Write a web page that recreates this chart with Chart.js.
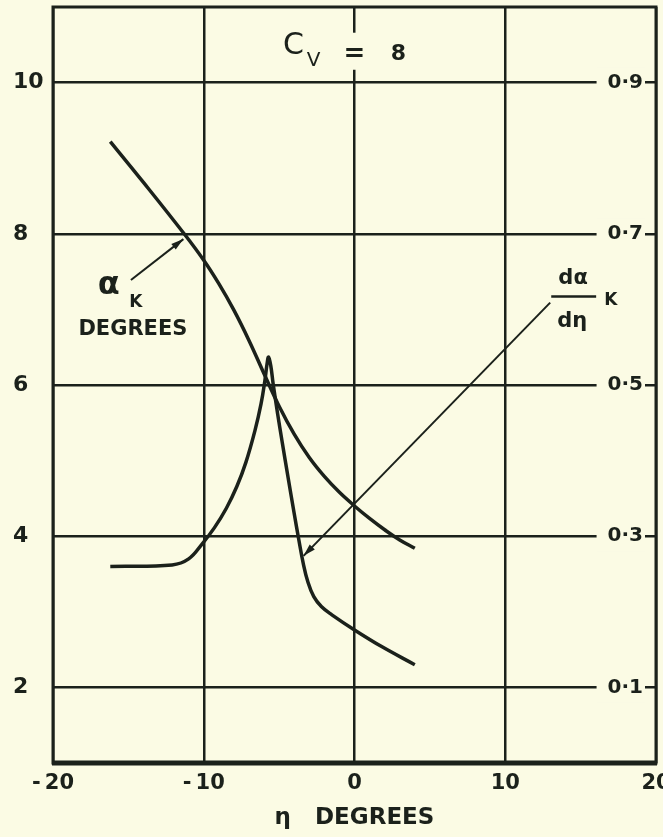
<!DOCTYPE html>
<html>
<head>
<meta charset="utf-8">
<title>Cv = 8</title>
<script src="https://cdn.jsdelivr.net/npm/chart.js@4.4.1/dist/chart.umd.min.js"></script>
<style>
  html, body { margin: 0; padding: 0; background: #fbfbe4; overflow: hidden; }
  #wrap { width: 690px; height: 837px; }
</style>
</head>
<body>
<div id="wrap"><canvas id="chart" width="690" height="837"></canvas></div>
<script>
// alpha_K (degrees) against eta (degrees) - left axis
const etaAlpha = [-16.2, -14, -11.3, -10, -9, -8, -7, -6, -5, -4, -3, -2, -1, 0, 1, 2, 3, 4];
const alphaK = [9.22, 8.68, 8.0, 7.65, 7.34, 6.99, 6.59, 6.15, 5.72, 5.35, 5.04, 4.79, 4.58, 4.40, 4.235, 4.085, 3.95, 3.84];

// d alpha_K / d eta against eta - right axis
const etaSlope = [-16.2, -12.1, -11, -10.1, -9.3, -8.5, -7.8, -7.2, -6.6, -6.2, -5.95, -5.8, -5.7, -5.55, -5.4, -5.1, -4.8, -4.4, -4.0, -3.7, -3.4, -3.1, -2.7, -2.2, -1.5, 0, 1.8, 4];
const dAlphaK = [0.260, 0.262, 0.270, 0.290, 0.311, 0.337, 0.366, 0.398, 0.440, 0.475, 0.505, 0.528, 0.537, 0.525, 0.502, 0.462, 0.425, 0.377, 0.330, 0.296, 0.264, 0.240, 0.220, 0.207, 0.196, 0.176, 0.154, 0.130];

const xTicks = [-20, -10, 0, 10, 20];
const leftTicks = [2, 4, 6, 8, 10];
const rightTicks = [0.1, 0.3, 0.5, 0.7, 0.9];

const INK = '#1b211b';
const PAPER = '#fbfbe4';
const FONT = "'DejaVu Sans', sans-serif";

function toPoints(xs, ys) {
    return xs.map((x, i) => ({ x: x, y: ys[i] }));
}

function arrow(ctx, x1, y1, x2, y2) {
    ctx.beginPath();
    ctx.moveTo(x1, y1);
    ctx.lineTo(x2, y2);
    ctx.stroke();
    const a = Math.atan2(y2 - y1, x2 - x1), L = 13, w = 0.28;
    ctx.beginPath();
    ctx.moveTo(x2, y2);
    ctx.lineTo(x2 - L * Math.cos(a - w), y2 - L * Math.sin(a - w));
    ctx.lineTo(x2 - L * Math.cos(a + w), y2 - L * Math.sin(a + w));
    ctx.closePath();
    ctx.fill();
}

// paper background + gap in the zero line behind the title
const paperPlugin = {
    id: 'paper',
    beforeDraw(chart) {
        const ctx = chart.ctx;
        ctx.save();
        ctx.fillStyle = PAPER;
        ctx.fillRect(0, 0, chart.width, chart.height);
        ctx.restore();
    },
    beforeDatasetsDraw(chart) {
        const { ctx, scales } = chart;
        const x0 = scales.x.getPixelForValue(0);
        const yA = scales.y.getPixelForValue(10.66);
        const yB = scales.y.getPixelForValue(10.17);
        ctx.save();
        ctx.fillStyle = PAPER;
        ctx.fillRect(x0 - 3, yA, 6, yB - yA);
        ctx.restore();
    }
};

// frame, title and curve labels
const notesPlugin = {
    id: 'notes',
    afterDraw(chart) {
        const { ctx, chartArea: a, scales } = chart;
        const px = v => scales.x.getPixelForValue(v);
        const py = v => scales.y.getPixelForValue(v);
        ctx.save();
        ctx.strokeStyle = INK;
        ctx.fillStyle = INK;

        // frame
        ctx.lineWidth = 3;
        ctx.strokeRect(a.left, a.top, a.right - a.left, a.bottom - a.top);
        ctx.lineWidth = 5;
        ctx.beginPath();
        ctx.moveTo(a.left - 1, a.bottom);
        ctx.lineTo(a.right + 1, a.bottom);
        ctx.stroke();

        ctx.textAlign = 'center';
        ctx.textBaseline = 'middle';

        // title  C_V = 8
        ctx.font = '30px ' + FONT;
        ctx.fillText('C', px(-4.04), py(10.48));
        ctx.font = '20px ' + FONT;
        ctx.fillText('V', px(-2.72), py(10.29));
        ctx.font = 'bold 26px ' + FONT;
        ctx.fillText('=', px(0), py(10.37));
        ctx.font = 'bold 22px ' + FONT;
        ctx.fillText('8', px(2.91), py(10.37));

        // alpha_K label
        ctx.lineWidth = 2;
        arrow(ctx, px(-14.83), py(7.39), px(-11.35), py(7.93));
        ctx.font = 'bold 32px ' + FONT;
        ctx.fillText('α', px(-16.3), py(7.31));
        ctx.font = 'bold 17px ' + FONT;
        ctx.fillText('K', px(-14.5), py(7.09));
        ctx.font = 'bold 21px ' + FONT;
        ctx.fillText('DEGREES', px(-14.7), py(6.73));

        // d alpha_K / d eta label
        arrow(ctx, px(12.98), py(7.09), px(-3.38), py(3.74));
        ctx.font = 'bold 21px ' + FONT;
        ctx.fillText('dα', px(14.5), py(7.41));
        ctx.fillText('dη', px(14.44), py(6.84));
        ctx.font = 'bold 17px ' + FONT;
        ctx.fillText('K', px(17.0), py(7.12));
        ctx.lineWidth = 2.5;
        ctx.beginPath();
        ctx.moveTo(px(13.05), py(7.17));
        ctx.lineTo(px(16.03), py(7.17));
        ctx.stroke();

        ctx.restore();
    }
};

new Chart(document.getElementById('chart'), {
    type: 'line',
    data: {
        datasets: [{
            label: 'αK degrees',
            data: toPoints(etaAlpha, alphaK),
            yAxisID: 'y',
            borderColor: INK,
            borderWidth: 3.5,
            pointRadius: 0,
            tension: 0.4
        }, {
            label: 'dαK / dη',
            data: toPoints(etaSlope, dAlphaK),
            yAxisID: 'y1',
            borderColor: INK,
            borderWidth: 3.5,
            pointRadius: 0,
            tension: 0.4
        }]
    },
    options: {
        responsive: false,
        animation: false,
        layout: { padding: { left: 13, top: 7, right: 0, bottom: 0 } },
        plugins: {
            legend: { display: false },
            tooltip: { enabled: false }
        },
        scales: {
            x: {
                type: 'linear',
                min: -20,
                max: 20,
                afterBuildTicks: s => { s.ticks = xTicks.map(v => ({ value: v })); },
                afterFit: s => { s.height = 74; s.paddingLeft = 0; s.paddingRight = 0; },
                border: { display: false },
                grid: { color: INK, lineWidth: 2.5, drawTicks: false },
                ticks: {
                    color: INK,
                    padding: 8,
                    font: { family: FONT, size: 21, weight: 'bold' },
                    callback: v => v < 0 ? '-\u2009' + Math.abs(v) : String(v)
                },
                title: {
                    display: true,
                    text: 'η   DEGREES',
                    color: INK,
                    font: { family: FONT, size: 23, weight: 'bold' },
                    padding: { top: 0, bottom: 5 }
                }
            },
            y: {
                position: 'left',
                min: 1,
                max: 11,
                afterBuildTicks: s => { s.ticks = leftTicks.map(v => ({ value: v })); },
                afterFit: s => { s.width = 40; s.paddingTop = 0; s.paddingBottom = 0; },
                border: { display: false },
                grid: { display: false },
                ticks: {
                    color: INK,
                    crossAlign: 'far',
                    font: { family: FONT, size: 22, weight: 'bold' }
                }
            },
            y1: {
                position: 'right',
                min: 0,
                max: 1,
                afterBuildTicks: s => { s.ticks = rightTicks.map(v => ({ value: v })); },
                afterFit: s => { s.width = 34; s.paddingTop = 0; s.paddingBottom = 0; },
                border: { display: false },
                grid: { color: INK, lineWidth: 2.5, drawTicks: false },
                ticks: {
                    color: INK,
                    mirror: true,
                    padding: -13,
                    showLabelBackdrop: true,
                    backdropColor: PAPER,
                    backdropPadding: { top: 3, bottom: 3, left: 11, right: 2 },
                    font: { family: FONT, size: 20, weight: 'bold' },
                    callback: v => v.toFixed(1).replace('.', '·')
                }
            }
        }
    },
    plugins: [paperPlugin, notesPlugin]
});
</script>
</body>
</html>
